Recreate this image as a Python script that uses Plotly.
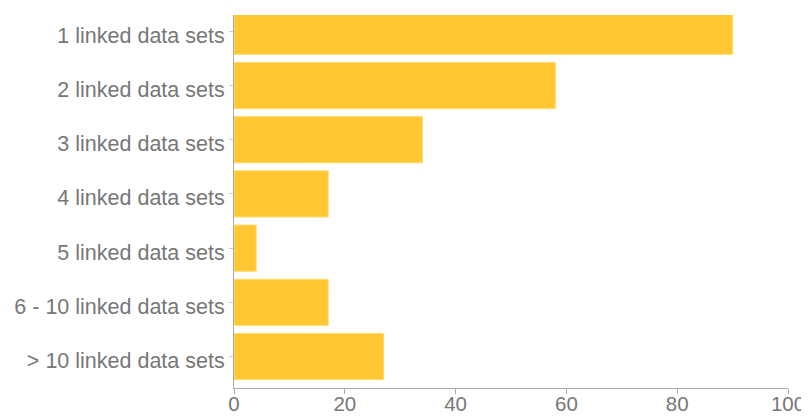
import plotly.graph_objects as go

categories = ["1 linked data sets", "2 linked data sets", "3 linked data sets",
              "4 linked data sets", "5 linked data sets", "6 - 10 linked data sets",
              "> 10 linked data sets"]
values = [90, 58, 34, 17, 4, 17, 27]
x_ticks = [0, 20, 40, 60, 80, 100]

fig = go.Figure(go.Bar(
    x=values, y=categories, orientation="h",
    marker=dict(color="#FFC832", line=dict(color="#FFD968", width=1)),
    width=0.85,
    cliponaxis=True,
))

# page body has an 8px default margin, so the figure is sized to fit the window
fig.update_layout(
    width=801, height=409,
    margin=dict(l=226, r=21, t=7, b=29, autoexpand=False),
    plot_bgcolor="white", paper_bgcolor="white",
    font=dict(family="Liberation Sans, Arial, sans-serif", size=21.5, color="#777777"),
    showlegend=False,
)
fig.update_xaxes(
    range=[0, 100], tickvals=x_ticks, showgrid=False, zeroline=False,
    showline=True, linecolor="#aaaaaa", linewidth=1, automargin=False,
    ticks="outside", ticklen=5, tickcolor="#aaaaaa",
    tickfont=dict(size=20.5),
    ticklabelstandoff=-8,
)
fig.update_yaxes(
    categoryorder="array", categoryarray=categories,
    range=[6.58, -0.30], showgrid=False, zeroline=False, automargin=False,
    showline=True, linecolor="#aaaaaa", linewidth=1,
    ticks="outside", ticklen=4, tickcolor="#cccccc",
    ticklabelshift=-4,
)

fig.write_html("out.html")
